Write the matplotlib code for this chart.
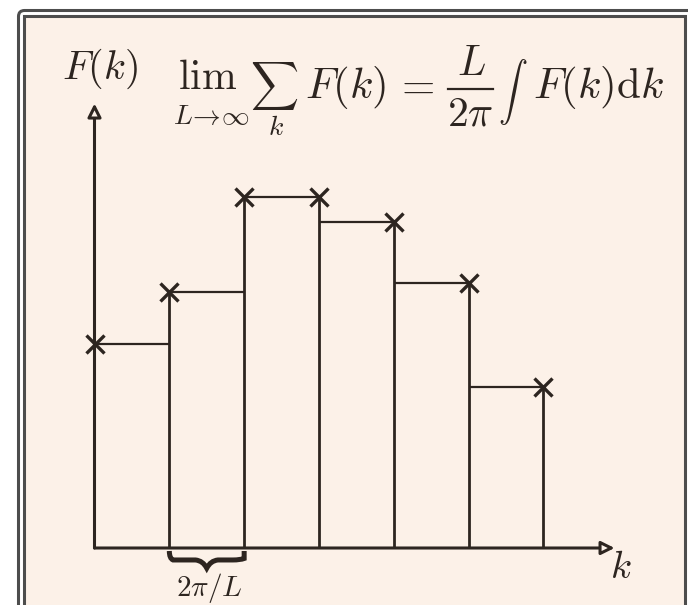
import numpy as np
import matplotlib
matplotlib.use("Agg")
import matplotlib.pyplot as plt
from matplotlib.patches import FancyBboxPatch, Rectangle, PathPatch
from matplotlib.path import Path
from matplotlib.lines import Line2D

plt.rcParams['mathtext.fontset'] = 'cm'
plt.rcParams['font.family'] = 'DejaVu Serif'

# sample points k_i (unit spacing = 2*pi/L) and the function values F(k_i)
k = [0, 1, 2, 3, 4, 5, 6]
F = [2.73, 3.42, 4.69, 4.69, 4.36, 3.54, 2.15]

ink = '#2d2520'
paper = '#fcf1e8'
frame = '#4d4d4d'

W, H = 688, 605
fig = plt.figure(figsize=(W / 100, H / 100), dpi=100)
fig.patch.set_facecolor('white')


def px(x, y):
    # pixel position (from top-left) -> figure fraction
    return x / W, 1 - y / H


def put(s, x, y, size, ha='center', va='baseline'):
    fx, fy = px(x, y)
    fig.text(fx, fy, s, ha=ha, va=va, fontsize=size, color=ink)


# frame drawn in pixel coordinates on a background axes
bg = fig.add_axes([0, 0, 1, 1])
bg.set_xlim(0, W)
bg.set_ylim(H, 0)
bg.axis('off')
bg.add_patch(FancyBboxPatch((18.5, 10.5), 720, 640, boxstyle='round,pad=0,rounding_size=6',
                            fc='white', ec=frame, lw=2.2))
bg.add_patch(Rectangle((23.5, 15.5), 661, 640, fc=paper, ec=frame, lw=2.2))

# main drawing, 1 unit of k = ~74.8 px
scale = 74.83
x0, y0 = 94.5, H - 548
ax = fig.add_axes([0, 0, 1, 1])
ax.set_xlim(-x0 / scale, (W - x0) / scale)
ax.set_ylim(-y0 / scale, (H - y0) / scale)
ax.axis('off')
ax.patch.set_alpha(0)

# axes with open arrowheads
arrow = dict(arrowstyle='-|>,head_length=0.8,head_width=0.4', fc=paper, ec=ink,
             lw=2.2, shrinkA=0, shrinkB=0)
ax.annotate('', xy=(k[0], 5.94), xytext=(k[0], 0), arrowprops=arrow)
ax.annotate('', xy=(6.95, 0), xytext=(k[0], 0), arrowprops=arrow)

# lower rectangles of the Riemann sum
heights = [min(F[i], F[i + 1]) for i in range(len(k) - 1)]
ax.hlines(heights, k[:-1], k[1:], color=ink, lw=1.6)
ax.vlines(k[1:], 0, F[1:], color=ink, lw=2.0)
ax.plot(k, F, ls='none', marker='x', ms=13, mew=2.4, color=ink)

# curly brace under one interval
a, b = k[1], k[2]
m = (a + b) / 2
t = -0.04
verts = [(a, t), (a, t - 0.1), (a + 0.05, t - 0.12), (a + 0.15, t - 0.12),
         (m - 0.15, t - 0.12), (m - 0.05, t - 0.13), (m, t - 0.23),
         (m + 0.05, t - 0.13), (m + 0.15, t - 0.12), (b - 0.15, t - 0.12),
         (b - 0.05, t - 0.12), (b, t - 0.1), (b, t)]
codes = [Path.MOVETO, Path.CURVE3, Path.CURVE3, Path.LINETO, Path.LINETO,
         Path.CURVE3, Path.CURVE3, Path.CURVE3, Path.CURVE3, Path.LINETO,
         Path.CURVE3, Path.CURVE3, Path.LINETO]
ax.add_patch(PathPatch(Path(verts, codes), fc='none', ec=ink, lw=3.6, capstyle='butt'))
put(r'$2\pi/L$', 209, 596, 21)

put(r'$k$', 621, 578, 28)
put(r'$F(k)$', 100, 79, 29)

# limit formula, set piece by piece
put(r'$\mathrm{lim}$', 208, 89, 30)
put(r'$L\!\rightarrow\!\infty$', 211, 124, 20)
put(r'$\sum$', 274, 86, 24, va='center')
put(r'$k$', 276, 135, 20)
put(r'$F(k)$', 305, 98, 31, ha='left')
put(r'$=$', 414, 98, 31)
put(r'$L$', 471, 75, 30)
put(r'$2\pi$', 470, 126, 30)
fig.add_artist(Line2D([448 / W, 493 / W], [1 - 88.5 / H] * 2, color=ink, lw=1.6))
put(r'$\int$', 513, 92, 21, va='center')
put(r'$F(k)\mathrm{d}k$', 533, 98, 31, ha='left')

fig.savefig('out.png', dpi=100, facecolor=fig.get_facecolor())
